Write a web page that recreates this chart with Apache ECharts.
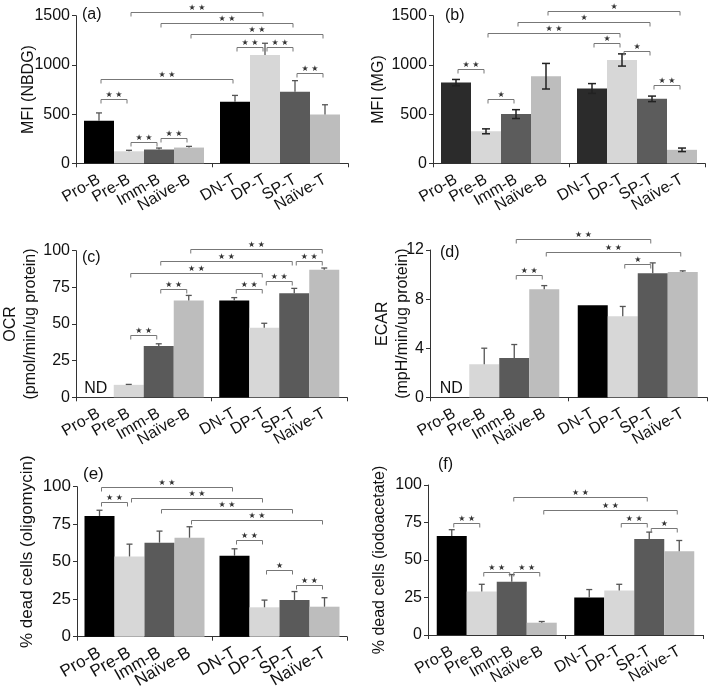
<!DOCTYPE html>
<html><head><meta charset="utf-8">
<script src="https://cdn.jsdelivr.net/npm/echarts@6/dist/echarts.min.js"></script>
<style>html,body{margin:0;padding:0;background:#fff}#c{width:709px;height:686px}</style>
</head><body><div id="c"></div>
<script>
const categories = ['Pro-B','Pre-B','Imm-B','Naïve-B','DN-T','DP-T','SP-T','Naïve-T'];

// (a) MFI (NBDG)
const aMean = [432, 122, 140, 160, 625, 1100, 728, 495];
const aErr  = [80, 10, 15, 12, 65, 120, 112, 100];
const aSig  = [[1,5,1534,'**'],[2,6,1422,'**'],[3,7,1311,'**'],[4,5,1185,'**'],[5,6,1185,'**'],[0,4,857,'**'],[0,1,650,'**'],[1,2,220,'**'],[2,3,261,'**'],[6,7,921,'**']];
const aTicks = [0, 500, 1000, 1500];

// (b) MFI (MG)
const bMean = [820, 325, 500, 885, 760, 1050, 655, 137];
const bErr  = [32, 25, 45, 130, 50, 62, 28, 18];
const bSig  = [[3,7,1548,'*'],[2,6,1439,'*'],[1,5,1321,'**'],[4,5,1219,'*'],[5,6,1145,'*'],[0,1,958,'**'],[1,2,654,'*'],[6,7,796,'**']];
const bTicks = [0, 500, 1000, 1500];

// (c) OCR
const cMean = [null, 8.5, 35, 66, 66, 47.5, 71, 87];
const cErr  = [0, 0.3, 1.5, 3.5, 2, 3, 3.3, 1.2];
const cSig  = [[3,7,101.1,'**'],[2,6,93.2,'**'],[1,5,84.6,'**'],[6,7,93.2,'**'],[5,6,79.6,'**'],[2,3,74,'**'],[4,5,74,'**'],[1,2,42.3,'**']];
const cTicks = [0, 25, 50, 75, 100];

// (d) ECAR
const dMean = [null, 2.7, 3.2, 8.8, 7.5, 6.6, 10.1, 10.2];
const dErr  = [0, 1.3, 1.1, 0.3, 0, 0.8, 0.85, 0.1];
const dSig  = [[2,6,12.87,'**'],[3,7,11.81,'**'],[5,6,10.86,'*'],[2,3,9.96,'**']];
const dTicks = [0, 4, 8, 12];

// (e) % dead cells (oligomycin)
const eMean = [80.5, 53.5, 62.7, 66, 54, 19.6, 24.5, 20];
const eErr  = [3.8, 8.2, 7.7, 7.3, 4.6, 4.8, 5.6, 6];
const eSig  = [[0,4,99.6,'**'],[1,5,92.2,'**'],[2,6,84.9,'**'],[3,7,77.8,'**'],[0,1,90,'**'],[4,5,64.4,'**'],[5,6,44.4,'*'],[6,7,34.4,'**']];
const eTicks = [0, 25, 50, 75, 100];

// (f) % dead cells (iodoacetate)
const fMean = [66, 29, 35.5, 8.2, 25, 29.6, 64, 55.8];
const fErr  = [4.2, 4.8, 4.8, 0.8, 5.3, 4.2, 4.6, 7.2];
const fSig  = [[2,6,92.2,'**'],[3,7,83.3,'**'],[0,1,74.9,'**'],[5,6,74.9,'**'],[6,7,71.1,'*'],[1,2,42.2,'**'],[2,3,42.2,'**']];
const fTicks = [0, 25, 50, 75, 100];

const FONT = "'Liberation Sans', Arial, Helvetica, sans-serif";
const colStd = ['#000000', '#d7d7d7', '#5a5a5a', '#bdbdbd'];
const colB   = ['#2b2b2b', '#d7d7d7', '#5c5c5c', '#bdbdbd'];

const panels = [
  {tag:'(a)', name:'MFI (NBDG)', mean:aMean, err:aErr, sig:aSig, ticks:aTicks, two:false, colors:colStd, box:[76,348,15.7,163.3], nameGap:37, tagPos:[82,7], fs:16},
  {tag:'(b)', name:'MFI (MG)', mean:bMean, err:bErr, sig:bSig, ticks:bTicks, two:true, colors:colB, box:[433,705,15.7,163.3], nameGap:44, tagPos:[445,8], fs:16},
  {tag:'(c)', name:'OCR\n(pmol/min/ug protein)', mean:cMean, err:cErr, sig:cSig, ticks:cTicks, two:false, colors:colStd, box:[76,347,250.7,397.3], nameGap:35, tagPos:[82,250], fs:16},
  {tag:'(d)', name:'ECAR\n(mpH/min/ug protein)', mean:dMean, err:dErr, sig:dSig, ticks:dTicks, two:false, colors:colStd, box:[430,707,250,397.3], nameGap:17, tagPos:[440,245], fs:16},
  {tag:'(e)', name:'% dead cells (oligomycin)', mean:eMean, err:eErr, sig:eSig, ticks:eTicks, two:false, colors:colStd, box:[77,347,486.7,636.7], nameGap:40, tagPos:[83,466], fs:17, namePad:[0,0,0,20]},
  {tag:'(f)', name:'% dead cells (iodoacetate)', mean:fMean, err:fErr, sig:fSig, ticks:fTicks, two:false, colors:colStd, box:[428,703,485,635], nameGap:38, tagPos:[438,457], fs:16}
];

const SLOT = 30;
const grids = [], xAxes = [], yAxes = [], series = [], titles = [];

function errRender(two, color, capHW, lw) {
  return function (params, api) {
    const x = api.value(0), v = api.value(1), sd = api.value(2);
    if (!(sd > 0) || isNaN(v)) return null;
    const pT = api.coord([x, v + sd]);
    const pB = api.coord([x, two ? v - sd : v]);
    const st = {stroke: color, lineWidth: lw};
    const ch = [
      {type:'line', shape:{x1:pT[0], y1:pT[1], x2:pB[0], y2:pB[1]}, style:st},
      {type:'line', shape:{x1:pT[0]-capHW, y1:pT[1], x2:pT[0]+capHW, y2:pT[1]}, style:st}
    ];
    if (two) ch.push({type:'line', shape:{x1:pB[0]-capHW, y1:pB[1], x2:pB[0]+capHW, y2:pB[1]}, style:st});
    return {type:'group', children:ch};
  };
}

panels.forEach((p, k) => {
  const [L, R, T, B] = p.box;
  const W = R - L, H = B - T, halfW = W / 2;
  const m = (halfW - 4 * SLOT) / 2;
  const yMin = p.ticks[0], yMax = p.ticks[p.ticks.length - 1], yInt = p.ticks[1] - p.ticks[0];
  const gFull = grids.length;
  const gBase = {top:T, height:H, outerBoundsMode:'none', containLabel:false};
  grids.push(Object.assign({left:L, width:W}, gBase));
  grids.push(Object.assign({left:L + m, width:4 * SLOT}, gBase));
  grids.push(Object.assign({left:L + halfW + m, width:4 * SLOT}, gBase));
  const xFull = xAxes.length;
  xAxes.push({type:'value', gridIndex:gFull, min:0, max:2, interval:1,
    axisLine:{show:true, lineStyle:{color:'#333', width:1}},
    axisTick:{show:true, length:4, lineStyle:{color:'#333'}},
    axisLabel:{show:false}, splitLine:{show:false}});
  const yFull = yAxes.length;
  yAxes.push({type:'value', gridIndex:gFull, position:'left', min:yMin, max:yMax, interval:yInt,
    axisLine:{show:true, lineStyle:{color:'#333', width:1}},
    axisTick:{show:true, length:4, lineStyle:{color:'#333'}},
    axisLabel:{fontFamily:FONT, fontSize:p.fs, color:'#111', margin:6, formatter:v => String(v)},
    splitLine:{show:false}});
  // separate left axis carrying only the name, so it is not pushed away by the tick labels
  yAxes.push({type:'value', gridIndex:gFull, position:'left', offset:0, min:yMin, max:yMax, interval:yInt,
    name:p.name, nameLocation:'middle', nameGap:p.nameGap, nameRotate:90, nameMoveOverlap:false,
    nameTextStyle:{fontFamily:FONT, fontSize:p.fs, color:'#111', lineHeight:20, padding:p.namePad || 0},
    axisLine:{show:false}, axisTick:{show:false}, axisLabel:{show:false}, splitLine:{show:false}});
  [0, 1].forEach(h => {
    const gi = gFull + 1 + h;
    const xi = xAxes.length, yi = yAxes.length;
    const cats = categories.slice(h * 4, h * 4 + 4);
    xAxes.push({type:'category', gridIndex:gi, data:cats,
      axisLine:{show:false}, axisTick:{show:false},
      axisLabel:{rotate:30, interval:0, fontFamily:FONT, fontSize:p.fs, color:'#111', margin:15}});
    yAxes.push({type:'value', gridIndex:gi, min:yMin, max:yMax, interval:yInt, show:false});
    const vals = p.mean.slice(h * 4, h * 4 + 4);
    const errs = p.err.slice(h * 4, h * 4 + 4);
    series.push({type:'bar', xAxisIndex:xi, yAxisIndex:yi, barCategoryGap:'0%', barWidth:'100%',
      data: vals.map((v, j) => ({value: v === null ? '-' : v, itemStyle:{color:p.colors[j]}})),
      silent:true, z:2});
    series.push({type:'custom', xAxisIndex:xi, yAxisIndex:yi, z:3, silent:true,
      renderItem: p.two ? errRender(true, '#222', 4, 1.5) : errRender(false, '#555', 3, 1.3),
      data: vals.map((v, j) => [j, v === null ? NaN : v, errs[j]]).filter(d => !isNaN(d[1]) && d[2] > 0)});
    const nd = vals.map((v, j) => v === null ? [j, 0] : null).filter(d => d);
    if (nd.length) {
      series.push({type:'custom', xAxisIndex:xi, yAxisIndex:yi, z:3, silent:true, clip:false, data:nd,
        renderItem: function (params, api) {
          const c = api.coord([api.value(0), api.value(1)]);
          return {type:'text', style:{text:'ND', x:c[0] - 3, y:c[1] - 1, align:'center', verticalAlign:'bottom',
            fontFamily:FONT, fontSize:p.fs, fill:'#111'}};
        }});
    }
  });
  const xval = i => Math.floor(i / 4) + (m + (i % 4 + 0.5) * SLOT) / halfW;
  const sig = p.sig;
  series.push({type:'custom', xAxisIndex:xFull, yAxisIndex:yFull, z:4, silent:true, clip:false,
    encode:{x:[0, 1], y:2},
    data: sig.map(s => [xval(s[0]), xval(s[1]), s[2]]),
    renderItem: function (params, api) {
      const a = api.coord([api.value(0), api.value(2)]);
      const b = api.coord([api.value(1), api.value(2)]);
      const x1 = a[0] + 2, x2 = b[0] - 2, y = Math.round(a[1]) + 0.5;
      const stars = sig[params.dataIndex][3] === '**' ? '★ ★' : '★';
      return {type:'group', children:[
        {type:'polyline', shape:{points:[[x1, y + 4], [x1, y], [x2, y], [x2, y + 4]]}, style:{stroke:'#777', lineWidth:1, fill:null}},
        {type:'text', style:{text:stars, x:(x1 + x2) / 2, y:y - 1, align:'center', verticalAlign:'bottom', fontSize:8, fontFamily:"'DejaVu Sans', sans-serif", fill:'#333'}}
      ]};
    }});
  titles.push({text:p.tag, left:p.tagPos[0], top:p.tagPos[1], padding:0,
    textStyle:{fontFamily:FONT, fontSize:p.fs, fontWeight:'normal', color:'#111'}});
});

const chart = echarts.init(document.getElementById('c'), null, {renderer:'canvas'});
chart.setOption({animation:false, backgroundColor:'#fff', title:titles, grid:grids, xAxis:xAxes, yAxis:yAxes, series:series});
</script></body></html>
